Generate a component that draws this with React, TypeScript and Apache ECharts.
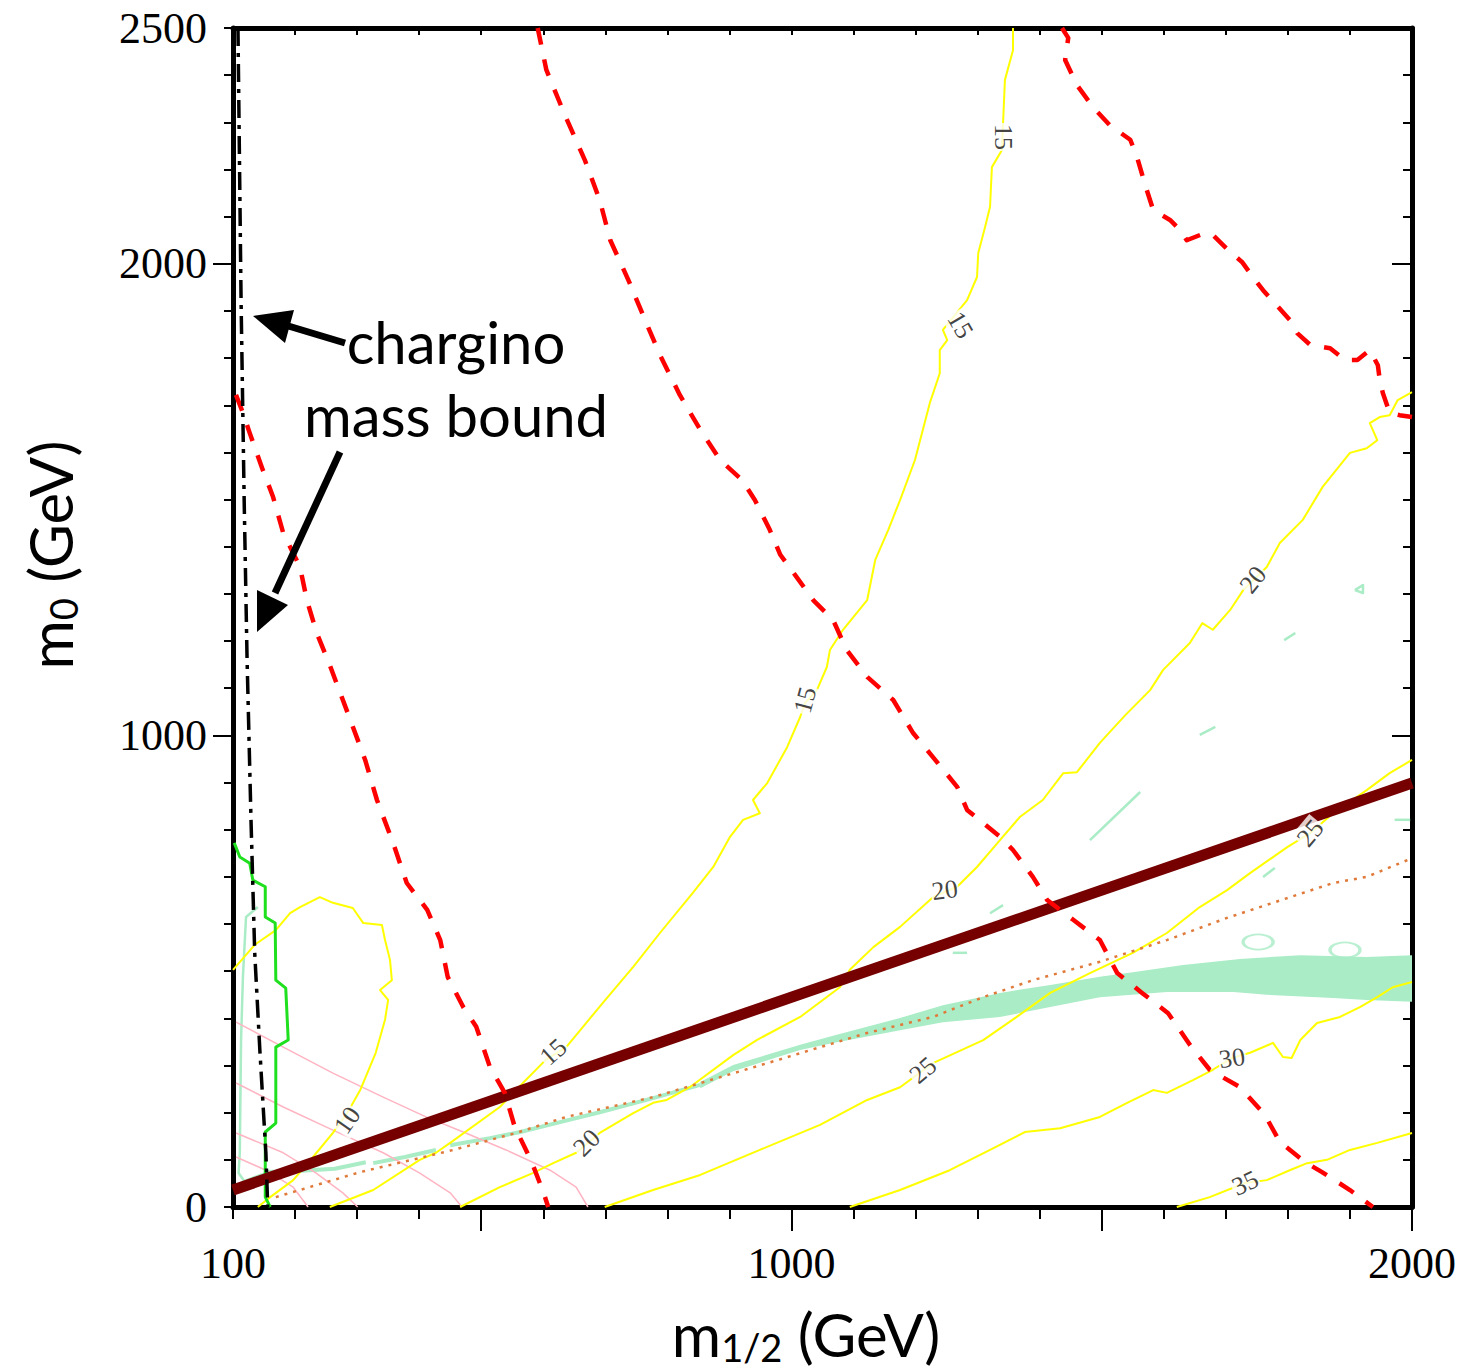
import React, { useEffect, useRef } from "react";
import * as echarts from "echarts";

// ---------- axes ----------
const xRange = [100, 2000];
const yRange = [0, 2500];
const xTickLabels = [100, 1000, 2000];
const yTickLabels = [0, 1000, 2000, 2500];
const xMajorBottom = [500, 1000, 1500, 2000];
const xMajorTop = [1500];
const yMajorLeft = [1000, 2000];
const yMajorRight = [1000, 2000];

// ---------- curves (m1/2, m0) in GeV ----------
const charginoBound = [[108, 2500], [113, 1923], [118, 1499], [122.6, 1166], [129, 821], [135, 539], [143.5, 327], [153, 115], [156, 0]];

const redLeft = [[104.8, 1722], [116, 1684], [127, 1641], [148, 1563], [164.5, 1506], [181, 1429], [208, 1357], [219, 1287], [235, 1217], [256, 1149], [289, 1033], [313, 948], [332, 863], [358, 772], [380, 687], [413, 630], [434, 566], [446, 488], [471, 424], [492, 382], [514, 297], [538, 242], [554, 170], [580, 100], [600, 32], [608, 0]];

const redMiddle = [[591, 2500], [605, 2411], [635, 2315], [667, 2220], [691, 2135], [708, 2050], [737, 1966], [764, 1881], [788, 1807], [820, 1722], [853, 1648], [885, 1584], [920, 1542], [941, 1499], [965, 1436], [982, 1383], [1006, 1340], [1035, 1287], [1067, 1245], [1089, 1181], [1122, 1124], [1164, 1075], [1196, 1005], [1228, 954], [1267, 891], [1283, 842], [1336, 785], [1357, 757], [1389, 700], [1412, 651], [1454, 609], [1497, 566], [1525, 496], [1565, 454], [1607, 411], [1642, 344], [1674, 291], [1723, 254], [1763, 195], [1787, 138], [1828, 95], [1855, 74], [1900, 36], [1937, 0]];

const redRight = [[1436, 2500], [1446, 2479], [1441, 2432], [1460, 2379], [1486, 2332], [1513, 2294], [1546, 2263], [1557, 2226], [1570, 2167], [1583, 2114], [1610, 2093], [1626, 2072], [1637, 2050], [1666, 2065], [1679, 2061], [1707, 2025], [1726, 2004], [1747, 1966], [1760, 1944], [1803, 1881], [1815, 1853], [1836, 1828], [1868, 1821], [1892, 1796], [1912, 1796], [1932, 1817], [1945, 1785], [1948, 1754], [1953, 1726], [1964, 1684], [1980, 1679], [2000, 1675]];

const yellow10 = [[100, 503], [135, 556], [169, 587], [192, 623], [208, 636], [240, 657], [261, 645], [293, 634], [310, 602], [340, 598], [345, 566], [353, 524], [356, 481], [337, 460], [350, 439], [345, 397], [330, 327], [305, 248], [284, 199], [261, 157], [229, 106], [197, 57], [160, 21], [140, 0]];

const yellow15 = [[256, 0], [326, 36], [401, 100], [427, 115], [450, 136], [530, 212], [556, 248], [604, 312], [637, 339], [669, 390], [696, 433], [745, 509], [788, 581], [841, 666], [874, 721], [901, 785], [922, 821], [949, 835], [938, 863], [961, 899], [993, 975], [1014, 1039], [1022, 1069], [1041, 1096], [1057, 1145], [1062, 1181], [1083, 1224], [1122, 1287], [1135, 1372], [1156, 1436], [1175, 1499], [1199, 1584], [1223, 1705], [1239, 1768], [1239, 1817], [1251, 1838], [1244, 1860], [1283, 1923], [1299, 1972], [1301, 2023], [1312, 2078], [1320, 2121], [1323, 2205], [1339, 2241], [1341, 2299], [1344, 2390], [1357, 2453], [1357, 2500]];

const yellow20 = [[466, 0], [530, 42], [583, 72], [616, 93], [653, 115], [691, 157], [745, 199], [777, 221], [799, 227], [836, 254], [906, 322], [944, 354], [1014, 403], [1078, 466], [1094, 503], [1132, 551], [1175, 594], [1228, 657], [1267, 679], [1299, 721], [1336, 778], [1368, 827], [1405, 863], [1438, 920], [1460, 922], [1497, 984], [1538, 1043], [1578, 1096], [1599, 1139], [1642, 1196], [1662, 1238], [1679, 1224], [1707, 1266], [1728, 1308], [1766, 1357], [1787, 1408], [1824, 1457], [1856, 1527], [1900, 1599], [1927, 1609], [1944, 1626], [1932, 1662], [1948, 1675], [1964, 1679], [1977, 1711], [2000, 1728]];

const yellow25 = [[699, 0], [777, 36], [853, 68], [949, 121], [1046, 174], [1122, 227], [1175, 254], [1228, 305], [1309, 354], [1363, 403], [1417, 454], [1481, 496], [1550, 539], [1605, 581], [1658, 636], [1702, 672], [1739, 708], [1799, 763], [1836, 793], [1873, 835], [1927, 884], [1964, 920], [2000, 948]];

const yellow30 = [[1094, 0], [1175, 36], [1255, 78], [1320, 121], [1376, 159], [1433, 167], [1497, 191], [1541, 221], [1583, 248], [1605, 242], [1647, 269], [1679, 291], [1710, 316], [1739, 327], [1776, 348], [1792, 318], [1806, 316], [1820, 354], [1847, 390], [1884, 403], [1916, 424], [1944, 445], [1969, 466], [2000, 477]];

const yellow35 = [[1621, 0], [1674, 21], [1731, 51], [1766, 57], [1803, 78], [1831, 93], [1863, 100], [1900, 121], [1944, 136], [2000, 157]];

const greenBound = [[102, 772], [111, 742], [127, 729], [132, 693], [152, 679], [152, 615], [168, 602], [169, 481], [185, 464], [189, 354], [169, 339], [169, 178], [152, 159], [152, 21], [160, 0]];

const pinkArcs = [
  [[105, 392], [181, 339], [261, 284], [342, 233], [411, 191], [475, 157], [540, 121], [611, 78], [653, 42], [672, 0]],
  [[105, 263], [181, 212], [261, 163], [342, 115], [401, 72], [450, 30], [469, 0]],
  [[105, 157], [181, 115], [234, 72], [277, 30], [301, 0]],
  [[105, 106], [153, 78], [197, 42], [221, 0]],
];

const maroonLine = [[100, 36], [2000, 899]];

const orangeDotted = [[169, 21], [305, 74], [401, 104], [455, 121], [556, 157], [637, 191], [777, 233], [961, 305], [1122, 369], [1228, 403], [1309, 445], [1389, 481], [1497, 520], [1605, 566], [1702, 613], [1776, 645], [1873, 687], [1927, 700], [1997, 738]];

const mintThin = [
  [[152, 74], [197, 76], [264, 81], [314, 95]],
  [[326, 93], [377, 106], [427, 121]],
  [[450, 131], [514, 146], [563, 159], [627, 180], [691, 201], [777, 231], [853, 259]],
];
const mintLeft = [[140, 636], [121, 615], [116, 488], [113, 354], [111, 115], [109, 72], [118, 55], [152, 72]];
const mintFragments = [
  [[1794, 1202], [1812, 1217]],
  [[1658, 1001], [1683, 1018]],
  [[1481, 778], [1562, 880]],
  [[1760, 700], [1779, 719]],
  [[1320, 623], [1341, 640]],
  [[1260, 539], [1283, 539]],
  [[1972, 821], [1997, 821]],
  [[1908, 1308], [1921, 1319], [1921, 1302], [1908, 1308]],
];
const mintBandUpper = [[853, 265], [906, 301], [1014, 344], [1067, 363], [1175, 401], [1244, 428], [1336, 454], [1417, 471], [1497, 488], [1550, 498], [1631, 513], [1723, 526], [1820, 534], [1927, 530], [2000, 534]];
const mintBandLower = [[853, 252], [906, 288], [1014, 333], [1067, 348], [1175, 375], [1244, 392], [1336, 403], [1417, 424], [1497, 445], [1605, 456], [1712, 456], [1766, 450], [1873, 443], [1927, 439], [2000, 435]];
const mintRings = [[1752, 562], [1892, 545]];

const contourLabelPos = [[284, 184], [1341, 2269], [1272, 1870], [1022, 1075], [616, 329], [670, 136], [1247, 672], [1744, 1330], [1212, 290], [1836, 793], [1710, 316], [1731, 51]];
const contourLabelText = ["10", "15", "15", "15", "15", "20", "20", "20", "25", "25", "30", "35"];
const contourLabelAngle = [55, -90, -60, 75, 42, 45, 8, 52, 40, 50, 8, 25];

// ---------- styles ----------
const RED = "#ff0000";
const YELLOW = "#ffff00";
const PINK = "#ffb4c2";
const MINT = "#a9ecc6";
const GREEN = "#1fe01f";
const ORANGE = "#e07a3a";
const MAROON = "#760000";

const line = (data: number[][], color: string, width: number, type: any = "solid", z = 2) => ({
  type: "line",
  data,
  xAxisIndex: 0,
  yAxisIndex: 0,
  symbol: "none",
  showSymbol: false,
  silent: true,
  z,
  lineStyle: { color, width, type, cap: "butt", join: "round" },
});

const tickStyle = { color: "#000", width: 2 };
const baseX = { type: "value", min: xRange[0], max: xRange[1], interval: 100, splitLine: { show: false } };
const baseY = { type: "value", min: yRange[0], max: yRange[1], interval: 100, splitLine: { show: false } };
const labelFont = { fontSize: 44, fontFamily: "Liberation Serif", color: "#000", formatter: (v: number) => String(v) };

const bandPoly = mintBandUpper.concat(mintBandLower.slice().reverse());

const titleRich = {
  a: { fontSize: 60, fontFamily: "Lato", fill: "#000", lineHeight: 60 },
  s: { fontSize: 38, fontFamily: "Lato", fill: "#000", lineHeight: 38, padding: [26, 0, 0, 0] },
};

const option: any = {
  animation: false,
  backgroundColor: "#fff",
  grid: { left: 233, right: 54, top: 28, bottom: 165, containLabel: false },
  xAxis: [
    { ...baseX, position: "bottom", axisLine: { show: true, onZero: false, lineStyle: { color: "#000", width: 5 } }, axisTick: { show: true, inside: false, length: 12, lineStyle: tickStyle }, axisLabel: { show: true, customValues: xTickLabels, margin: 34, ...labelFont } },
    { ...baseX, position: "bottom", axisLine: { show: false }, axisTick: { show: true, inside: false, customValues: xMajorBottom, length: 24, lineStyle: tickStyle }, axisLabel: { show: false } },
    { ...baseX, position: "top", axisLine: { show: true, onZero: false, lineStyle: { color: "#000", width: 5 } }, axisTick: { show: true, inside: true, length: 7, lineStyle: tickStyle }, axisLabel: { show: false } },
    { ...baseX, position: "top", axisLine: { show: false }, axisTick: { show: true, inside: true, customValues: xMajorTop, length: 13, lineStyle: tickStyle }, axisLabel: { show: false } },
  ],
  yAxis: [
    { ...baseY, position: "left", axisLine: { show: true, onZero: false, lineStyle: { color: "#000", width: 5 } }, axisTick: { show: true, inside: false, length: 9, lineStyle: tickStyle }, axisLabel: { show: true, customValues: yTickLabels, margin: 26, ...labelFont } },
    { ...baseY, position: "left", axisLine: { show: false }, axisTick: { show: true, inside: false, customValues: yMajorLeft, length: 20, lineStyle: tickStyle }, axisLabel: { show: false } },
    { ...baseY, position: "right", axisLine: { show: true, onZero: false, lineStyle: { color: "#000", width: 5 } }, axisTick: { show: true, inside: true, length: 9, lineStyle: tickStyle }, axisLabel: { show: false } },
    { ...baseY, position: "right", axisLine: { show: false }, axisTick: { show: true, inside: true, customValues: yMajorRight, length: 20, lineStyle: tickStyle }, axisLabel: { show: false } },
  ],
  series: [
    {
      type: "custom",
      xAxisIndex: 0,
      yAxisIndex: 0,
      silent: true,
      z: 1,
      data: [[1000, 500]],
      renderItem: (params: any, api: any) => ({
        type: "polygon",
        shape: { points: bandPoly.map((p) => api.coord(p)) },
        style: { fill: MINT },
      }),
    },
    ...mintThin.map((d) => line(d, MINT, 4, "solid", 1)),
    line(mintLeft, MINT, 2.5, "solid", 1),
    ...mintFragments.map((d) => line(d, MINT, 2.5, "solid", 1)),
    {
      type: "scatter",
      xAxisIndex: 0,
      yAxisIndex: 0,
      silent: true,
      z: 1,
      data: mintRings,
      symbol: "circle",
      symbolSize: [30, 15],
      itemStyle: { color: "rgba(0,0,0,0)", borderColor: MINT, borderWidth: 2.5 },
    },
    ...pinkArcs.map((d) => line(d, PINK, 1.5, "solid", 2)),
    line(yellow10, YELLOW, 2, "solid", 3),
    line(yellow15, YELLOW, 2, "solid", 3),
    line(yellow20, YELLOW, 2, "solid", 3),
    line(yellow25, YELLOW, 2, "solid", 3),
    line(yellow30, YELLOW, 2, "solid", 3),
    line(yellow35, YELLOW, 2, "solid", 3),
    line(greenBound, GREEN, 3, "solid", 3),
    line(orangeDotted, ORANGE, 2.5, [3, 6], 3),
    line(maroonLine, MAROON, 11, "solid", 4),
    line(redLeft, RED, 4.5, [17, 15], 5),
    line(redMiddle, RED, 4.5, [17, 15], 5),
    line(redRight, RED, 4.5, [17, 15], 5),
    line(charginoBound, "#000", 3.5, [18, 7, 4, 7], 6),
    {
      type: "scatter",
      xAxisIndex: 0,
      yAxisIndex: 0,
      silent: true,
      z: 7,
      symbolSize: 1,
      itemStyle: { color: "rgba(0,0,0,0)" },
      data: contourLabelPos.map((p, i) => ({
        value: p,
        label: {
          show: true,
          position: "inside",
          formatter: contourLabelText[i],
          rotate: contourLabelAngle[i],
          fontSize: 26,
          fontFamily: "Liberation Serif",
          color: "#111",
          backgroundColor: "#fff",
          padding: [0, 1],
        },
      })),
    },
  ],
  graphic: [
    // annotation text
    { type: "text", z: 20, style: { text: "chargino", x: 456, y: 341, align: "center", verticalAlign: "middle", font: "58px Lato", fill: "#000" } },
    { type: "text", z: 20, style: { text: "mass bound", x: 456, y: 414, align: "center", verticalAlign: "middle", font: "58px Lato", fill: "#000" } },
    // arrow 1
    { type: "line", z: 20, shape: { x1: 345, y1: 343, x2: 285, y2: 325 }, style: { stroke: "#000", lineWidth: 7 } },
    { type: "polygon", z: 20, shape: { points: [[253, 316], [294, 310], [285, 343]] }, style: { fill: "#000" } },
    // arrow 2
    { type: "line", z: 20, shape: { x1: 340, y1: 452, x2: 275, y2: 593 }, style: { stroke: "#000", lineWidth: 7 } },
    { type: "polygon", z: 20, shape: { points: [[257, 632], [257, 590], [288, 605]] }, style: { fill: "#000" } },
    // x axis title
    {
      type: "text",
      z: 20,
      style: { text: "{a|m}{s|1/2}{a| (GeV)}", x: 806, y: 1334, align: "center", verticalAlign: "middle", rich: titleRich },
    },
    // y axis title
    {
      type: "text",
      z: 20,
      x: 50,
      y: 555,
      rotation: Math.PI / 2,
      style: { text: "{a|m}{s|0}{a| (GeV)}", x: 0, y: 0, align: "center", verticalAlign: "middle", rich: titleRich },
    },
  ],
};

export default function App() {
  const ref = useRef<HTMLDivElement>(null);
  useEffect(() => {
    const chart = echarts.init(ref.current!, null, { renderer: "svg" });
    chart.setOption(option);
    return () => chart.dispose();
  }, []);
  return <div ref={ref} style={{ position: "fixed", left: 0, top: 0, width: 1466, height: 1372, background: "#fff" }} />;
}
